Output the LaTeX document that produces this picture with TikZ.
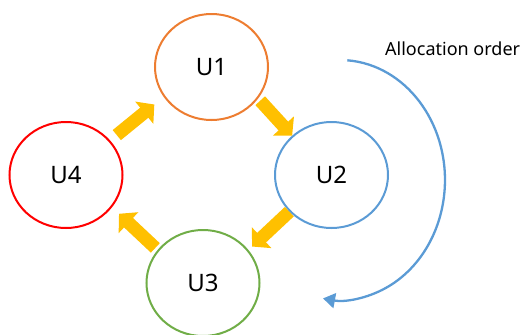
\documentclass[tikz,border=0pt]{standalone}
\usepackage{fontspec}
\setmainfont{Noto Sans}
\usetikzlibrary{arrows.meta,shapes.geometric}
\definecolor{uorange}{HTML}{ED7D31}
\definecolor{ublue}{HTML}{5B9BD5}
\definecolor{ugreen}{HTML}{70AD47}
\definecolor{ured}{HTML}{FF0000}
\definecolor{ygold}{HTML}{FFC000}
\begin{document}
\begin{tikzpicture}[x=1pt,y=-1pt,
  unode/.style={ellipse,draw,line width=2pt,minimum width=113pt,minimum height=106pt,inner sep=0pt,font=\fontsize{24}{28}\selectfont},
  blk/.style={draw=ygold,line width=13pt,line cap=butt,-{Triangle[length=13pt,width=28pt]}}]
\useasboundingbox (0,0) rectangle (523,335);
\node[unode,draw=uorange] (u1) at (211.5,67) {U1};
\node[unode,draw=ublue]   (u2) at (331.5,175) {U2};
\node[unode,draw=ugreen]  (u3) at (203,283) {U3};
\node[unode,draw=ured]    (u4) at (66,175) {U4};
\draw[blk,shorten <=3pt] (u1.-34) -- (u2.135);
\draw[blk,shorten >=5pt] (u2.221) -- (u3.36);
\draw[blk,shorten <=3pt,shorten >=9.5pt] (u3.144) -- (u4.-35);
\draw[blk,shorten <=8.5pt,shorten >=12pt] (u4.38) -- (u1.212);
\node[anchor=base west,inner sep=0pt,font=\fontsize{18}{22}\selectfont] (lbl) at (385,55) {Allocation order};
\coordinate (arcstart) at (347.3,60.3);
\draw[ublue,line width=2.3pt,-{Triangle[length=12pt,width=15pt]}] (arcstart) arc[start angle=86,end angle=-99.3,x radius=105pt,y radius=120pt];
\end{tikzpicture}
\end{document}
